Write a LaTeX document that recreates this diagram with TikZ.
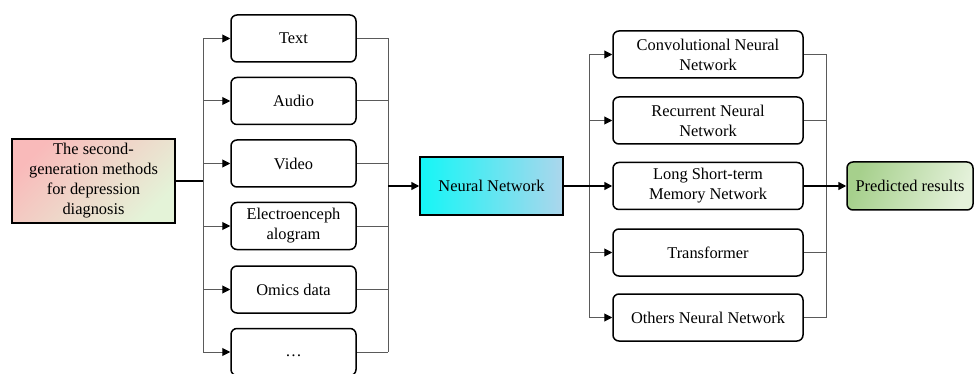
\documentclass[tikz,border=0pt]{standalone}
\usepackage{fontspec}
\setmainfont{Liberation Serif}
\usetikzlibrary{arrows.meta}
\definecolor{srcA}{RGB}{249,186,186}
\definecolor{srcB}{RGB}{228,243,216}
\definecolor{nnA}{RGB}{20,246,246}
\definecolor{nnB}{RGB}{172,214,236}
\definecolor{resA}{RGB}{166,208,140}
\definecolor{resB}{RGB}{228,241,218}
\definecolor{lgrey}{RGB}{90,90,90}
\begin{document}
\begin{tikzpicture}[x=1pt,y=-1pt,
  txt/.style={font=\fontsize{16.4}{20}\selectfont, align=center, inner sep=0pt},
  boxbase/.style={txt, draw, line width=1.5pt},
  srcbox/.style={boxbase, minimum width=163pt, minimum height=84pt,
    left color=srcA, right color=srcB, shading angle=45},
  inbox/.style={boxbase, rounded corners=6pt, minimum width=125pt, minimum height=47pt, fill=white},
  nnbox/.style={boxbase, minimum width=143pt, minimum height=58pt,
    left color=nnA, right color=nnB},
  outbox/.style={boxbase, rounded corners=6pt, minimum width=190pt, minimum height=47pt, fill=white},
  resbox/.style={boxbase, rounded corners=6pt, minimum width=126pt, minimum height=48pt,
    left color=resA, right color=resB, shading angle=70},
  gline/.style={draw=lgrey, line width=1pt},
  mline/.style={draw=black, line width=1.5pt},
  arr/.style={-{Triangle[length=8pt,width=8pt,color=black]}}
]
\useasboundingbox (0,0) rectangle (974,374);

\coordinate (s1) at (203,0);
\coordinate (s2) at (388,0);
\coordinate (s3) at (589,0);
\coordinate (s4) at (826,0);

\node[srcbox] (src) at (93.5,181) {The second-\\generation methods\\for depression\\diagnosis};

\node[inbox] (i1) at (293.5,38.5) {Text};
\node[inbox] (i2) at (293.5,101) {Audio};
\node[inbox] (i3) at (293.5,163.5) {Video};
\node[inbox] (i4) at (293.5,226) {Electroenceph\\alogram};
\node[inbox] (i5) at (293.5,289.5) {Omics data};
\node[inbox] (i6) at (293.5,352) {\strut\dots};

\node[nnbox] (nn) at (491.5,186) {Neural Network};

\node[outbox] (o1) at (708,54.5) {Convolutional Neural\\Network};
\node[outbox] (o2) at (708,120.5) {Recurrent Neural\\Network};
\node[outbox] (o3) at (708,186) {Long Short-term\\Memory Network};
\node[outbox] (o4) at (708,252.5) {Transformer};
\node[outbox] (o5) at (708,317.5) {Others Neural Network};

\node[resbox] (res) at (910,186) {Predicted results};

% left fan-out
\draw[mline] (src.east) -- (src.east -| s1);
\draw[gline] (s1 |- i1) -- (s1 |- i6);
\foreach \i in {1,...,6} \draw[gline,arr] (s1 |- i\i) -- (i\i.west);
% left fan-in
\foreach \i in {1,...,6} \draw[gline] (i\i.east) -- (i\i.east -| s2);
\draw[gline] (s2 |- i1) -- (s2 |- i6);
\draw[mline,arr] (nn.west -| s2) -- (nn.west);
% right fan-out
\draw[gline] (s3 |- o1) -- (s3 |- o5);
\foreach \i in {1,2,4,5} \draw[gline,arr] (s3 |- o\i) -- (o\i.west);
\draw[mline,arr] (nn.east) -- (o3.west);
% right fan-in
\foreach \i in {1,2,4,5} \draw[gline] (o\i.east) -- (o\i.east -| s4);
\draw[gline] (s4 |- o1) -- (s4 |- o5);
\draw[mline,arr] (o3.east) -- (res.west);
\end{tikzpicture}
\end{document}
